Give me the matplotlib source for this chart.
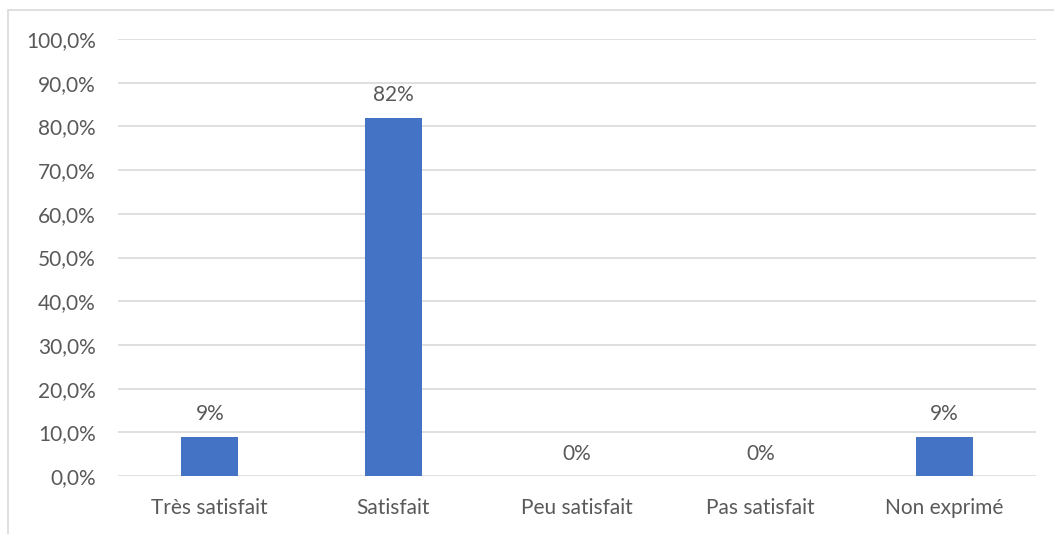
import matplotlib
matplotlib.use("Agg")
import matplotlib.pyplot as plt
import numpy as np

categories = ["Très satisfait", "Satisfait", "Peu satisfait", "Pas satisfait", "Non exprimé"]
values = [0.09, 0.82, 0.0, 0.0, 0.09]
value_labels = ["9%", "82%", "0%", "0%", "9%"]
yticks = [0.0, 0.1, 0.2, 0.3, 0.4, 0.5, 0.6, 0.7, 0.8, 0.9, 1.0]

plt.rcParams["font.family"] = ["Lato", "DejaVu Sans"]
TXT = "#595959"
FS = 15

W, H = 1054, 534
fig = plt.figure(figsize=(W / 100, H / 100), dpi=100)
ax = fig.add_axes([118 / W, 1 - 476 / H, (1036 - 118) / W, (476 - 39) / H])

# outer chart border (cropped at right / bottom)
fig.patches.append(plt.Rectangle((8 / W, -0.1), 1.2, 1 - 10 / H + 0.1,
                                 transform=fig.transFigure, fill=False,
                                 edgecolor="#d9d9d9", linewidth=1.2))

x = np.arange(len(categories))
ax.bar(x, values, width=0.31, color="#4472C4", zorder=3)
ax.set_xlim(-0.5, len(categories) - 0.5)
ax.set_ylim(0, 1.0)
ax.set_yticks(yticks)
ax.set_yticklabels([f"{v * 100:.1f}%".replace(".", ",") for v in yticks])
ax.set_xticks(x)
ax.set_xticklabels(categories)
ax.tick_params(length=0, colors=TXT, labelsize=FS)
ax.tick_params(axis="y", pad=16)
ax.tick_params(axis="x", pad=16)
for s in ax.spines.values():
    s.set_visible(False)
ax.grid(axis="y", color="#d9d9d9", linewidth=1.2, zorder=0)

for xi, v, lbl in zip(x, values, value_labels):
    ax.annotate(lbl, (xi, v), xytext=(0, 9), textcoords="offset points",
                ha="center", va="bottom", color=TXT, fontsize=FS)

fig.savefig("out.png", dpi=100)
